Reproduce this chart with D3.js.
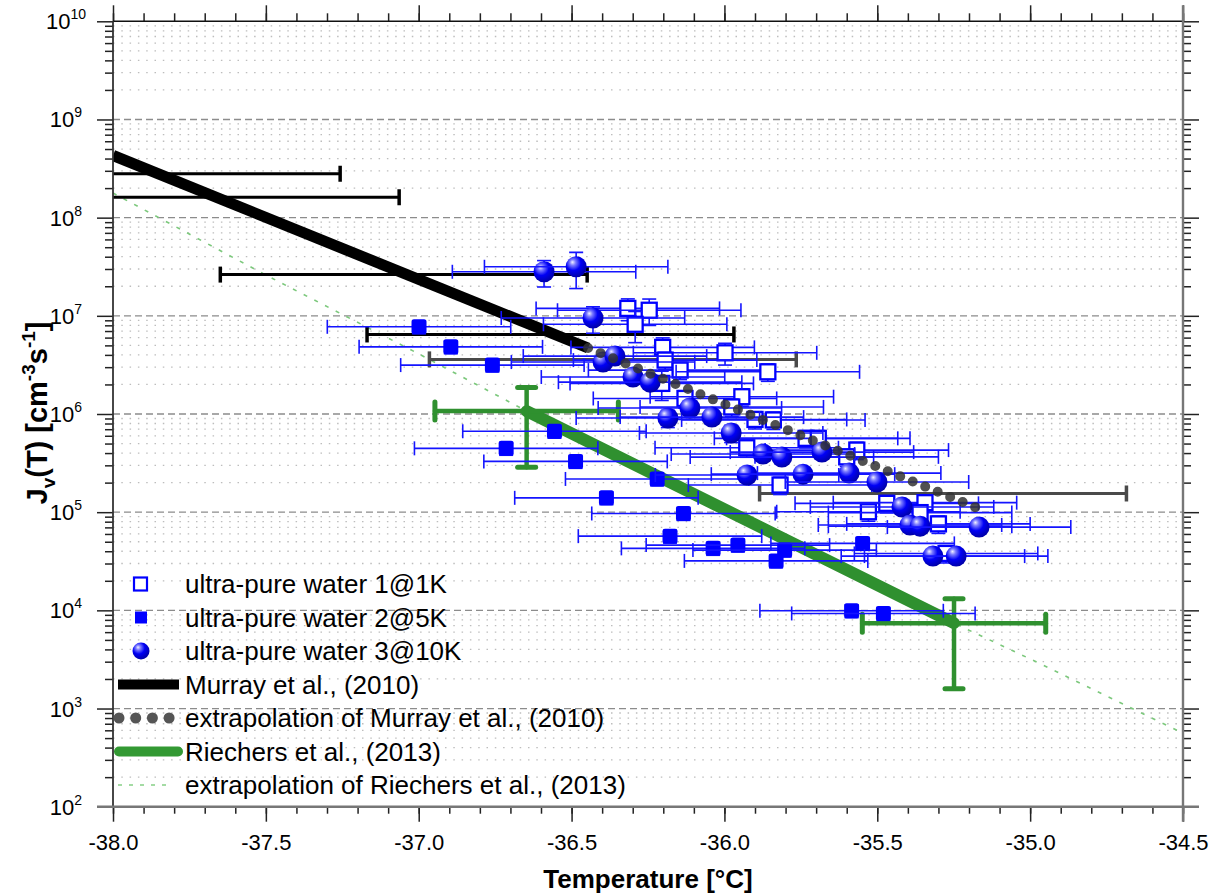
<!DOCTYPE html>
<html lang="en">
<head>
  <meta charset="UTF-8">
  <title>Nucleation rate vs temperature</title>
  <script src="https://d3js.org/d3.v7.min.js"></script>
  <style>
    body { margin: 0; background: #fff; }
    text { font-family: "Liberation Sans", Arial, sans-serif; }
  </style>
</head>
<body>
  <svg id="svg" width="1229" height="894"></svg>
  <script>
    // axis ranges and ticks
    var xDomain = [-38.0, -34.5]
    var yDomain = [1e2, 1e10]
    var xMajorTicks = [-38.0, -37.5, -37.0, -36.5, -36.0, -35.5, -35.0, -34.5]
    var yMajorExp = [2, 3, 4, 5, 6, 7, 8, 9, 10]

    // ultra-pure water 1@1K (open squares)
    var pure1T = [-36.316, -36.246, -36.292, -36.202, -35.998, -36.194, -36.145, -35.858, -36.205, -36.129,
                  -35.943, -35.976, -35.900, -35.840, -35.927, -35.733, -35.693, -35.567, -35.600, -35.818,
                  -35.529, -35.469, -35.344, -35.360, -35.300, -35.275]
    var pure1J = [1.19e7, 1.14e7, 8.2e6, 4.77e6, 4.2e6, 3.54e6, 2.8e6, 2.69e6, 2.05e6, 1.44e6,
                  1.5e6, 1.18e6, 8.8e5, 8.7e5, 4.53e5, 5.65e5, 5.65e5, 4.29e5, 3.66e5, 1.89e5,
                  1.01e5, 1.23e5, 1.25e5, 9.9e4, 7.6e4, 3.8e4]
    var pure1Err = [0.25, 0.3, 0.35, 0.25, 0.25, 0.2, 0.2, 0.2, 0.33, 0.2,
                    0.2, 0.2, 0.2, 0.2, 0.2, 0.2, 0.2, 0.2, 0.2, 0.2,
                    0.2, 0.2, 0.2, 0.2, 0.2, 0.2]

    // ultra-pure water 2@5K (filled squares)
    var pure2T = [-36.999, -36.895, -36.759, -36.556, -36.714, -36.487, -36.220, -36.386, -36.134, -36.178,
                  -36.037, -35.956, -35.803, -35.831, -35.548, -35.584, -35.480]
    var pure2J = [7.73e6, 4.83e6, 3.15e6, 6.67e5, 4.47e5, 3.29e5, 2.18e5, 1.40e5, 9.7e4, 5.7e4,
                  4.28e4, 4.62e4, 4.11e4, 3.19e4, 4.81e4, 9.9e3, 9.3e3]
    var pure2Err = [0.15, 0.15, 0.15, 0.15, 0.15, 0.15, 0.15, 0.15, 0.15, 0.15,
                    0.15, 0.15, 0.15, 0.15, 0.15, 0.15, 0.15]

    // ultra-pure water 3@10K (spheres)
    var pure3T = [-36.590, -36.485, -36.430, -36.397, -36.358, -36.299, -36.243, -36.185, -36.113, -36.041,
                  -35.978, -35.926, -35.874, -35.812, -35.743, -35.681, -35.592, -35.501, -35.419, -35.393,
                  -35.360, -35.167, -35.318, -35.242]
    var pure3J = [2.81e7, 3.16e7, 9.5e6, 3.38e6, 3.89e6, 2.38e6, 2.11e6, 9.1e5, 1.15e6, 9.3e5,
                  6.4e5, 2.39e5, 3.91e5, 3.64e5, 2.44e5, 4.09e5, 2.5e5, 2.03e5, 1.13e5, 7.4e4,
                  7.2e4, 7.05e4, 3.57e4, 3.57e4]
    var pure3Err = [0.3, 0.4, 0.3, 0.15, 0.15, 0.15, 0.15, 0.2, 0.15, 0.15,
                    0.2, 0.15, 0.15, 0.15, 0.15, 0.15, 0.15, 0.15, 0.15, 0.15,
                    0.15, 0.15, 0.15, 0.15]
    var pureErrT = 0.3

    // Murray et al. (2010)
    var murrayT = [-38.0, -36.446]
    var murrayJ = [4.3e8, 4.7e6]
    var murrayExtT = [-36.446, -35.15]
    var murrayExtJ = [4.7e6, 1.03e5]
    var murrayBarT = [-37.857, -37.664, -37.049, -36.569]
    var murrayBarJ = [2.8e8, 1.61e8, 2.63e7, 6.46e6]
    var murrayExtBarT = [-36.365, -35.285]
    var murrayExtBarJ = [3.6e6, 1.55e5]
    var murrayErrT = 0.6

    // Riechers et al. (2013)
    var riechT = [-36.647, -35.249]
    var riechJ = [1.07e6, 7.4e3]
    var riechJLo = [2.86e5, 1.59e3]
    var riechJHi = [1.86e6, 1.31e4]
    var riechErrT = 0.3
    var riechExtT = [-38.0, -37.5, -37.0, -36.647, -35.249, -35.0, -34.5]
    var riechExtJ = [1.78e8, 2.6e7, 4.1e6, 1.07e6, 7.4e3, 3.2e3, 5.6e2]

    var legendLabels = ['ultra-pure water 1@1K', 'ultra-pure water 2@5K', 'ultra-pure water 3@10K',
                        'Murray et al., (2010)', 'extrapolation of Murray et al., (2010)',
                        'Riechers et al., (2013)', 'extrapolation of Riechers et al., (2013)']

    // plot box (window.top is read-only, so own names)
    var pL = 113, pR = 1183, pT = 21.3, pB = 806.7
    var x = d3.scaleLinear().domain(xDomain).range([pL, pR])
    var y = d3.scaleLog().domain(yDomain).range([pB, pT])
    var line = d3.line().x(d => x(d[0])).y(d => y(d[1]))

    var svg = d3.select('#svg')
    var defs = svg.append('defs')
    defs.append('clipPath').attr('id', 'plot').append('rect')
      .attr('x', pL).attr('y', pT).attr('width', pR - pL).attr('height', pB - pT)
    var grad = defs.append('radialGradient').attr('id', 'ball')
      .attr('cx', '40%').attr('cy', '35%').attr('r', '65%').attr('fx', '32%').attr('fy', '28%')
    grad.append('stop').attr('offset', '0%').attr('stop-color', '#f0f0ff')
    grad.append('stop').attr('offset', '22%').attr('stop-color', '#7a7aff')
    grad.append('stop').attr('offset', '55%').attr('stop-color', '#0000f5')
    grad.append('stop').attr('offset', '100%').attr('stop-color', '#0000a8')

    // grid
    var minorVals = []
    for (var e = 2; e < 10; e++) for (var k = 2; k < 10; k++) minorVals.push(k * Math.pow(10, e))
    var majorVals = yMajorExp.map(e => Math.pow(10, e))
    var grid = svg.append('g')
    grid.selectAll('.gm').data(minorVals).enter().append('line')
      .attr('x1', pL).attr('x2', pR)
      .attr('y1', d => y(d)).attr('y2', d => y(d))
      .attr('stroke', '#bdbdbd').attr('stroke-width', 1.3).attr('stroke-dasharray', '1.5,6.8')
    grid.selectAll('.gM').data(majorVals.slice(1, -1)).enter().append('line')
      .attr('x1', pL).attr('x2', pR)
      .attr('y1', d => y(d)).attr('y2', d => y(d))
      .attr('stroke', '#8c8c8c').attr('stroke-width', 1.3).attr('stroke-dasharray', '7,4')

    var plot = svg.append('g').attr('clip-path', 'url(#plot)')

    // Riechers extrapolation + line + error bars
    plot.append('path').datum(riechExtT.map((t, i) => [t, riechExtJ[i]]))
      .attr('d', line).attr('fill', 'none')
      .attr('stroke', '#7cc87c').attr('stroke-width', 1.6).attr('stroke-dasharray', '4,8')
    plot.append('path').datum(riechT.map((t, i) => [t, riechJ[i]]))
      .attr('d', line).attr('fill', 'none')
      .attr('stroke', '#2f902f').attr('stroke-width', 12).attr('stroke-linecap', 'round')
    var rg = plot.append('g').attr('stroke', '#2f902f').attr('stroke-width', 4.5).attr('stroke-linecap', 'round')
    riechT.forEach(function (t, i) {
      var cy = y(riechJ[i]), cx = x(t)
      rg.append('line').attr('x1', x(t - riechErrT)).attr('x2', x(t + riechErrT)).attr('y1', cy).attr('y2', cy)
      rg.append('line').attr('x1', cx).attr('x2', cx).attr('y1', y(riechJLo[i])).attr('y2', y(riechJHi[i]))
      ;[t - riechErrT, t + riechErrT].forEach(function (tt) {
        rg.append('line').attr('x1', x(tt)).attr('x2', x(tt)).attr('y1', cy - 9).attr('y2', cy + 9).attr('stroke-width', 5)
      })
      ;[riechJLo[i], riechJHi[i]].forEach(function (jj) {
        rg.append('line').attr('x1', cx - 9).attr('x2', cx + 9).attr('y1', y(jj)).attr('y2', y(jj)).attr('stroke-width', 5)
      })
    })

    // Murray horizontal error bars
    function hbars(T, J, color) {
      var g = plot.append('g').attr('stroke', color).attr('stroke-width', 3)
      T.forEach(function (t, i) {
        var cy = y(J[i])
        g.append('line').attr('x1', x(t - murrayErrT)).attr('x2', x(t + murrayErrT)).attr('y1', cy).attr('y2', cy)
        ;[t - murrayErrT, t + murrayErrT].forEach(function (tt) {
          g.append('line').attr('x1', x(tt)).attr('x2', x(tt)).attr('y1', cy - 8).attr('y2', cy + 8).attr('stroke-width', 3.5)
        })
      })
    }
    hbars(murrayBarT, murrayBarJ, '#000')
    hbars(murrayExtBarT, murrayExtBarJ, '#4a4a4a')

    plot.append('path').datum(murrayT.map((t, i) => [t, murrayJ[i]]))
      .attr('d', line).attr('fill', 'none').attr('stroke', '#000').attr('stroke-width', 11)

    // blue series
    function series(T, J, E, shape) {
      var g = plot.append('g')
      var pts = g.selectAll('g').data(T.map((t, i) => ({ t: t, j: J[i], e: E[i] }))).enter().append('g')
      function ln(sel, x1, x2, y1, y2) {
        sel.append('line').attr('x1', x1).attr('x2', x2).attr('y1', y1).attr('y2', y2)
          .attr('stroke', '#1414ff').attr('stroke-width', 1.6)
      }
      pts.each(function (d) {
        var s = d3.select(this), cx = x(d.t), cy = y(d.j)
        var xl = x(d.t - pureErrT), xr = x(d.t + pureErrT)
        var yl = y(d.j * (1 - d.e)), yh = y(d.j * (1 + d.e))
        ln(s, xl, xr, cy, cy)
        ln(s, xl, xl, cy - 7, cy + 7)
        ln(s, xr, xr, cy - 7, cy + 7)
        ln(s, cx, cx, yl, yh)
        ln(s, cx - 7, cx + 7, yl, yl)
        ln(s, cx - 7, cx + 7, yh, yh)
        if (shape === 'open') {
          s.append('rect').attr('x', cx - 7.5).attr('y', cy - 7.5).attr('width', 15).attr('height', 15)
            .attr('fill', '#fff').attr('stroke', '#0000ff').attr('stroke-width', 2.3)
        } else if (shape === 'filled') {
          s.append('rect').attr('x', cx - 7.5).attr('y', cy - 7.5).attr('width', 15).attr('height', 15)
            .attr('rx', 2.5).attr('fill', '#0000ff')
        } else {
          s.append('circle').attr('cx', cx).attr('cy', cy).attr('r', 10.5).attr('fill', 'url(#ball)')
        }
      })
    }
    series(pure1T, pure1J, pure1Err, 'open')
    series(pure2T, pure2J, pure2Err, 'filled')
    series(pure3T, pure3J, pure3Err, 'ball')

    // Murray extrapolation dots
    plot.append('path').datum(murrayExtT.map((t, i) => [t, murrayExtJ[i]]))
      .attr('d', line).attr('fill', 'none').attr('stroke', '#333').attr('stroke-opacity', 0.85)
      .attr('stroke-width', 10).attr('stroke-linecap', 'round').attr('stroke-dasharray', '0,13.5')

    // axes
    var xMinor = d3.range(0, 36).map(i => -38 + i * 0.1)
    function styleAxis(g) {
      g.select('.domain').remove()
      g.selectAll('.tick line').attr('stroke', '#222').attr('stroke-width', 1.5)
      g.selectAll('text').attr('font-size', 22).attr('fill', '#000')
        .attr('font-family', '"Liberation Sans", Arial, sans-serif')
    }
    svg.append('g').attr('transform', 'translate(0,' + pB + ')')
      .call(d3.axisBottom(x).tickValues(xMinor).tickSize(7).tickFormat('').tickSizeOuter(0)).call(styleAxis)
    svg.append('g').attr('transform', 'translate(0,' + pB + ')')
      .call(d3.axisBottom(x).tickValues(xMajorTicks).tickSize(15).tickPadding(13)
        .tickFormat(d => d.toFixed(1)).tickSizeOuter(0)).call(styleAxis)
    svg.append('g').attr('transform', 'translate(0,' + pT + ')')
      .call(d3.axisTop(x).tickValues(xMinor).tickSize(8).tickFormat('').tickSizeOuter(0)).call(styleAxis)
    svg.append('g').attr('transform', 'translate(0,' + pT + ')')
      .call(d3.axisTop(x).tickValues(xMajorTicks).tickSize(16).tickFormat('').tickSizeOuter(0)).call(styleAxis)
    svg.append('g').attr('transform', 'translate(' + pL + ',0)')
      .call(d3.axisLeft(y).tickValues(minorVals).tickSize(8).tickFormat('').tickSizeOuter(0)).call(styleAxis)
    svg.append('g').attr('transform', 'translate(' + pL + ',0)')
      .call(d3.axisLeft(y).tickValues(majorVals).tickSize(16).tickFormat('').tickSizeOuter(0)).call(styleAxis)
    svg.append('g').attr('transform', 'translate(' + pR + ',0)')
      .call(d3.axisRight(y).tickValues(minorVals).tickSize(8).tickFormat('').tickSizeOuter(0)).call(styleAxis)
    svg.append('g').attr('transform', 'translate(' + pR + ',0)')
      .call(d3.axisRight(y).tickValues(majorVals).tickSize(16).tickFormat('').tickSizeOuter(0)).call(styleAxis)

    // axis lines
    svg.append('line').attr('x1', pL).attr('x2', pR).attr('y1', pT).attr('y2', pT)
      .attr('stroke', '#111').attr('stroke-width', 1.5)
    svg.append('line').attr('x1', pL).attr('x2', pL).attr('y1', pT).attr('y2', pB)
      .attr('stroke', '#333').attr('stroke-width', 1.8)
    svg.append('line').attr('x1', pL - 16).attr('x2', pR + 16).attr('y1', pB).attr('y2', pB)
      .attr('stroke', '#777').attr('stroke-width', 2.4)
    svg.append('line').attr('x1', pR).attr('x2', pR).attr('y1', pT - 16).attr('y2', pB + 15)
      .attr('stroke', '#777').attr('stroke-width', 2.4)

    // y tick labels 10^n
    var ylab = svg.append('g')
    yMajorExp.forEach(function (e) {
      var t = ylab.append('text').attr('x', 66).attr('y', y(Math.pow(10, e)) + 8)
        .attr('text-anchor', 'middle').attr('font-size', 22)
      t.append('tspan').text('10')
      t.append('tspan').attr('font-size', 14).attr('dy', -10).text(e)
    })

    // axis titles
    svg.append('text').attr('x', 648).attr('y', 888).attr('text-anchor', 'middle')
      .attr('font-size', 26).attr('font-weight', 'bold').text('Temperature [°C]')
    var yt = svg.append('text').attr('transform', 'translate(47,413) rotate(-90)')
      .attr('text-anchor', 'middle').attr('font-size', 29).attr('font-weight', 'bold')
    yt.append('tspan').text('J')
    yt.append('tspan').attr('font-size', 19).attr('dy', 8).text('v')
    yt.append('tspan').attr('dy', -8).text('(T) [cm')
    yt.append('tspan').attr('font-size', 19).attr('dy', -12).text('-3')
    yt.append('tspan').attr('dy', 12).text('s')
    yt.append('tspan').attr('font-size', 19).attr('dy', -12).text('-1')
    yt.append('tspan').attr('dy', 12).text(']')

    // legend
    var lg = svg.append('g')
    var rowY = legendLabels.map((d, i) => 584 + i * 33.5)
    lg.selectAll('text').data(legendLabels).enter().append('text')
      .attr('x', 185).attr('y', (d, i) => rowY[i]).attr('dy', '0.36em')
      .attr('font-size', 26).text(d => d)
    lg.append('rect').attr('x', 134).attr('y', rowY[0] - 6.5).attr('width', 13).attr('height', 13)
      .attr('fill', '#fff').attr('stroke', '#0000ff').attr('stroke-width', 2.2)
    lg.append('rect').attr('x', 135).attr('y', rowY[1] - 6).attr('width', 12).attr('height', 12).attr('fill', '#0000ff')
    lg.append('circle').attr('cx', 141).attr('cy', rowY[2]).attr('r', 8.5).attr('fill', 'url(#ball)')
    lg.append('line').attr('x1', 118).attr('x2', 179).attr('y1', rowY[3]).attr('y2', rowY[3])
      .attr('stroke', '#000').attr('stroke-width', 10)
    lg.append('line').attr('x1', 119).attr('x2', 170).attr('y1', rowY[4]).attr('y2', rowY[4])
      .attr('stroke', '#555').attr('stroke-width', 11).attr('stroke-linecap', 'round').attr('stroke-dasharray', '0,16.7')
    lg.append('line').attr('x1', 119).attr('x2', 178).attr('y1', rowY[5]).attr('y2', rowY[5])
      .attr('stroke', '#339933').attr('stroke-width', 10).attr('stroke-linecap', 'round')
    lg.append('line').attr('x1', 118).attr('x2', 172).attr('y1', rowY[6]).attr('y2', rowY[6])
      .attr('stroke', '#86cf86').attr('stroke-width', 1.6).attr('stroke-dasharray', '4,7')
  </script>
</body>
</html>
